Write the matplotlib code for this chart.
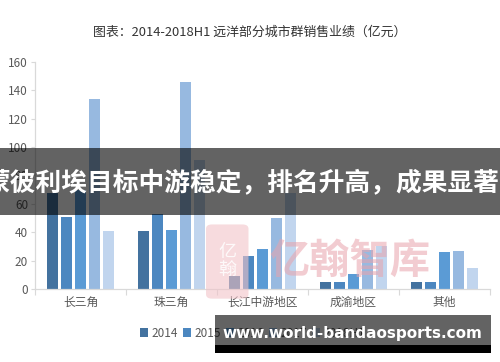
import numpy as np
import matplotlib
matplotlib.use('Agg')
import matplotlib.pyplot as plt
from matplotlib.patches import Rectangle, FancyBboxPatch

plt.rcParams['font.family'] = ['Noto Sans CJK SC', 'DejaVu Sans']

categories = ['长三角', '珠三角', '长江中游地区', '成渝地区', '其他']
years = ['2014', '2015', '2016', '2017', '2018H1']
sales_2014 = [68, 41, 9.5, 4.7, 4.7]
sales_2015 = [51, 53, 23, 4.7, 4.7]
sales_2016 = [70, 41.5, 28, 10.6, 25.8]
sales_2017 = [134, 146, 50, 27.5, 26.5]
sales_2018h1 = [41, 91, 68, 30.5, 15]
yticks = [0, 20, 40, 60, 80, 100, 120, 140, 160]

series = [sales_2014, sales_2015, sales_2016, sales_2017, sales_2018h1]
colors = ['#43729f', '#4c87c0', '#5b9bd5', '#97b9e0', '#c1d5ee']
grey = '#595959'

fig = plt.figure(figsize=(5, 3.62), dpi=100)
ax = fig.add_axes([0.07, 0.2017, 0.91, 0.627])

x = np.arange(len(categories))
step = 0.154
width = 0.12
for i, (vals, c) in enumerate(zip(series, colors)):
    ax.bar(x + (i - 2) * step, vals, width, color=c, label=years[i], zorder=2)

ax.set_xlim(-0.5, 4.5)
ax.set_ylim(0, 160)
ax.set_yticks(yticks)
ax.set_xticks(x)
ax.set_xticklabels(categories)
ax.set_xticks(np.arange(-0.5, 5, 1), minor=True)
ax.tick_params(axis='x', which='major', length=0, labelsize=8.5, labelcolor=grey, pad=5)
ax.tick_params(axis='x', which='minor', length=4, color='#d9d9d9', width=0.8)
ax.tick_params(axis='y', length=3, color='#d9d9d9', labelsize=8.5, labelcolor=grey, pad=2)
for s in ['top', 'right']:
    ax.spines[s].set_visible(False)
for s in ['left', 'bottom']:
    ax.spines[s].set_color('#d9d9d9')
    ax.spines[s].set_linewidth(0.9)

fig.text(0.5, 0.912, '图表：2014-2018H1 远洋部分城市群销售业绩（亿元）',
         ha='center', va='center', fontsize=9.3, color='#333333')

fig.legend(loc='center', bbox_to_anchor=(0.505, 0.08), ncol=5, frameon=False,
           fontsize=8.5, labelcolor=grey, handlelength=0.7, handleheight=0.7,
           handletextpad=0.3, columnspacing=0.4)

# watermark
logo = FancyBboxPatch((0.412, 0.175), 0.085, 0.205, boxstyle='round,pad=0,rounding_size=0.012',
                      transform=fig.transFigure, facecolor='#f2c4c9', edgecolor='none',
                      alpha=0.6, zorder=5)
fig.patches.append(logo)
fig.text(0.455, 0.28, '亿\n翰', ha='center', va='center', fontsize=13, color='white',
         alpha=0.85, linespacing=1.0, zorder=6)
fig.text(0.70, 0.277, '亿翰智库', ha='center', va='center', fontsize=29,
         color='#e9a3ac', alpha=0.55, fontweight='bold', zorder=6)

# overlay banners
fig.patches.append(Rectangle((0, 0.406), 1, 0.185, transform=fig.transFigure,
                             facecolor='black', alpha=0.61, zorder=10))
fig.text(0.999, 0.495, '蒙彼利埃目标中游稳定，排名升高，成果显著', ha='right', va='center',
         fontsize=18.5, color='white', fontweight='bold', zorder=11)
fig.patches.append(Rectangle((0.43, 0.047), 0.552, 0.083, transform=fig.transFigure,
                             facecolor='black', alpha=0.61, zorder=10))
fig.patches.append(Rectangle((0.43, 0.025), 0.552, 0.022, transform=fig.transFigure,
                             facecolor='black', zorder=10))
fig.text(0.705, 0.08, 'www.world-bandaosports.com', ha='center', va='center',
         fontsize=11, color='white', fontweight='bold', family='DejaVu Sans', zorder=11)

fig.savefig('out.png', dpi=100)
